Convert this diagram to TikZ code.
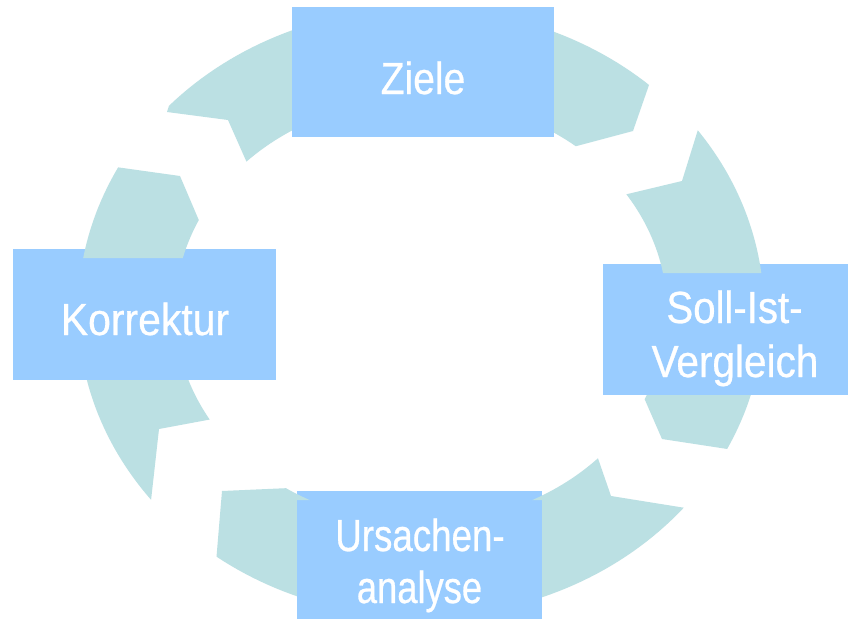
\documentclass[tikz,border=0pt]{standalone}
\usepackage{fontspec}
\newfontfamily\lblfont[FakeStretch=0.85,FakeBold=0.6]{Liberation Sans}
\definecolor{ringc}{HTML}{BBE0E3}
\definecolor{boxc}{HTML}{99CCFF}
\newcommand\cyclearrows{%
  % top arrow (Ziele)
  \fill[ring] plot[domain=-137.3:-49.1,samples=60] ({421+343*cos(\x)},{312+304*sin(\x)})
    -- (649,85) -- (633,131)
    -- plot[domain=-51:-135.2,samples=60] ({421+246*cos(\x)},{311+212*sin(\x)})
    -- (228,120) -- (167,112) -- cycle;
  % right arrow (Soll-Ist-Vergleich)
  \fill[ring] plot[domain=-36.2:26.8,samples=60] ({421+343*cos(\x)},{311+306*sin(\x)})
    -- (662,439)
    -- plot[domain=24.6:-33.4,samples=60] ({421+246*cos(\x)},{311+212*sin(\x)})
    -- (682,181) -- cycle;
  % bottom arrow (Ursachenanalyse)
  \fill[ring] plot[domain=40:126.6,samples=60] ({421+343*cos(\x)},{311+306*sin(\x)})
    -- (222,491)
    -- plot[domain=123.3:44,samples=60] ({421+246*cos(\x)},{311+212*sin(\x)})
    -- (611,496) -- cycle;
  % left arrow (Korrektur)
  \fill[ring] plot[domain=141.9:208,samples=60] ({421+343*cos(\x)},{311+306*sin(\x)})
    -- (180,176)
    -- plot[domain=205.4:149.2,samples=60] ({421+246*cos(\x)},{311+212*sin(\x)})
    -- (159,429) -- cycle;
}
\begin{document}
\begin{tikzpicture}[x=1pt,y=-1pt,
  ring/.style={fill=ringc},
  boxnode/.style={fill=boxc, draw=none, inner sep=0pt, outer sep=0pt},
  lbl/.style={text=white, font=\lblfont\fontsize{45}{54}\selectfont, anchor=base, inner sep=0pt}]
\useasboundingbox[fill=white] (0,0) rectangle (848,618);
\cyclearrows
\node[boxnode, minimum width=262pt, minimum height=130pt] (ziele) at (423,72) {};
\node[boxnode, minimum width=263pt, minimum height=131pt] (korr) at (144.5,314.5) {};
\node[boxnode, minimum width=264pt, minimum height=131pt] (soll) at (735,329.5) {};
\node[boxnode, minimum width=245pt, minimum height=131pt] (urs) at (419.5,556.5) {};
\begin{scope}
  \clip (13,249) rectangle (276,258) (603,264) rectangle (848,273) (297,491) rectangle (542,500);
  \cyclearrows
\end{scope}
\node[lbl] (tziele) at (423,94) {\scalebox{1.02}[1]{Ziele}};
\node[lbl] (tkorr) at (145,335) {\scalebox{1.07}[1]{Korrektur}};
\node[lbl] (tsoll1) at (734.5,323) {\scalebox{1.05}[1]{Soll-Ist-}};
\node[lbl] (tsoll2) at (735,377) {\scalebox{1.06}[1]{Vergleich}};
\node[lbl] (turs1) at (420,551) {\scalebox{0.96}[1]{Ursachen-}};
\node[lbl] (turs2) at (419.5,603) {\scalebox{0.95}[1]{analyse}};
\end{tikzpicture}
\end{document}
